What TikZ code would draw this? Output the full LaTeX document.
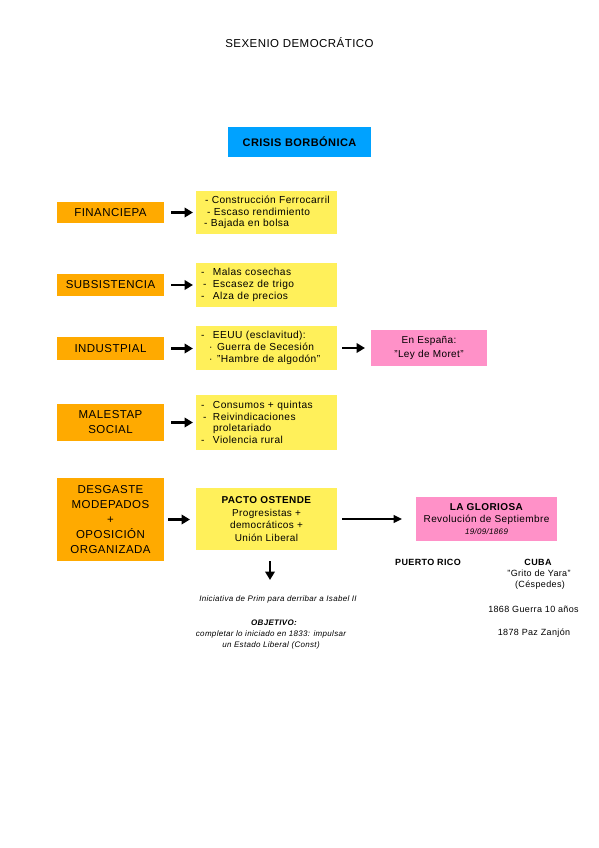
\documentclass[tikz,border=0pt]{standalone}
\usepackage{fontspec}
\setmainfont{Liberation Sans}[LetterSpace=4]
\usetikzlibrary{arrows.meta}
\definecolor{corange}{RGB}{255,170,0}
\definecolor{cyellow}{RGB}{255,240,90}
\definecolor{cpink}{RGB}{255,145,200}
\definecolor{cblue}{RGB}{0,162,255}
\newcommand{\dsh}{\hspace*{4pt}\makebox[12pt][l]{-}}
\newcommand{\dshb}{\hspace*{6pt}\makebox[10pt][l]{-}}
\newcommand{\bul}{\hspace*{12pt}\makebox[8pt][l]{·}}
\begin{document}
\begin{tikzpicture}[x=1pt,y=-1pt,
  box/.style={inner sep=0pt, outer sep=0pt},
  obox/.style={box, fill=corange, minimum width=107pt, align=center, font=\fontsize{11.5}{15}\selectfont},
  ybox/.style={box, fill=cyellow, minimum width=141pt, text width=139pt, align=left, font=\fontsize{10.2}{11.7}\selectfont},
  pbox/.style={box, fill=cpink, align=center},
  arr/.style={line width=2.3pt, -{Triangle[length=8.5pt,width=9.5pt]}},
  thinarr/.style={line width=1.5pt, -{Triangle[length=8.5pt,width=8pt]}},
  note/.style={font=\itshape\fontsize{8}{10.5}\selectfont, align=center},
  side/.style={font=\fontsize{9}{11}\selectfont},
  sideb/.style={font=\bfseries\fontsize{9}{11}\selectfont},
]
\useasboundingbox (0,0) rectangle (599,848);

\node[font=\fontsize{11.5}{13}\selectfont] (title) at (299.5,43) {SEXENIO DEMOCRÁTICO};
\node[box, fill=cblue, minimum width=143pt, minimum height=30pt, font=\bfseries\fontsize{11}{13}\selectfont] (crisis) at (299.5,142) {CRISIS BORBÓNICA};

% orange boxes
\node[obox, minimum height=21pt] (fin) at (110.5,212.5) {FINANCIEPA};
\node[obox, minimum height=22pt] (sub) at (110.5,285) {SUBSISTENCIA};
\node[obox, minimum height=23pt] (ind) at (110.5,348.5) {INDUSTPIAL};
\node[obox, minimum height=37pt] (mal) at (110.5,422.5) {MALESTAP\\SOCIAL};
\node[obox, minimum height=83pt] (des) at (110.5,519.5) {DESGASTE\\MODEPADOS\\+\\OPOSICIÓN\\ORGANIZADA};

% yellow boxes
\node[ybox, minimum height=43pt] (y1) at (266.5,212.5) {\hspace*{8pt}- Construcción Ferrocarril\\\hspace*{10pt}- Escaso rendimiento\\\hspace*{7pt}- Bajada en bolsa};
\node[ybox, minimum height=44pt] (y2) at (266.5,285) {\dsh Malas cosechas\\\dshb Escasez de trigo\\\dsh Alza de precios};
\node[ybox, minimum height=44pt] (y3) at (266.5,348) {\dsh EEUU (esclavitud):\\\bul Guerra de Secesión\\\bul "Hambre de algodón"};
\node[ybox, minimum height=55pt] (y4) at (266.5,422.5) {\dsh Consumos + quintas\\\dshb Reivindicaciones\\\hspace*{16pt}proletariado\\\dsh Violencia rural};
\node[box, fill=cyellow, minimum width=141pt, minimum height=62pt, align=center, font=\fontsize{10}{12.5}\selectfont] (y5) at (266.5,519) {\textbf{PACTO OSTENDE}\\Progresistas +\\democráticos +\\Unión Liberal};

% pink boxes
\node[pbox, minimum width=116pt, minimum height=36pt, font=\fontsize{10}{14.5}\selectfont] (p1) at (429,348) {En España:\\"Ley de Moret"};
\node[pbox, minimum width=141pt, minimum height=44pt, font=\fontsize{10}{12}\selectfont] (p2) at (486.5,519) {\textbf{LA GLORIOSA}\\Revolución de Septiembre\\{\itshape\fontsize{8}{12}\selectfont 19/09/1869}};

% arrows
\draw[arr, shorten <=7pt, shorten >=3pt] (fin.east) -- (y1.west |- fin.east);
\draw[arr, shorten <=7pt, shorten >=3pt] (sub.east) -- (y2.west |- sub.east);
\draw[arr, shorten <=7pt, shorten >=3pt] (ind.east) -- (y3.west |- ind.east);
\draw[arr, shorten <=7pt, shorten >=3pt] (mal.east) -- (y4.west |- mal.east);
\draw[arr, shorten <=4pt, shorten >=6pt] (des.east) -- (y5.west |- des.east);
\draw[arr, shorten <=5pt, shorten >=6pt] (y3.east) -- (p1.west |- y3.east);
\draw[thinarr, shorten <=5pt, shorten >=14pt] (y5.east) -- (p2.west |- y5.east);
\coordinate (dtop) at (270,561);
\coordinate (dbot) at (270,580);
\draw[arr] (dtop) -- (dbot);

% notes
\node[note] (ini) at (278,599) {Iniciativa de Prim para derribar a Isabel II};
\node[note, font=\bfseries\itshape\fontsize{8}{10.5}\selectfont] (obj) at (274,623) {OBJETIVO:};
\node[note] (comp) at (271,640) {completar lo iniciado en 1833: impulsar\\un Estado Liberal (Const)};

% right side
\node[sideb] (pr) at (428,562) {PUERTO RICO};
\node[sideb] (cuba) at (538,562) {CUBA};
\node[side] (yara) at (539,573) {"Grito de Yara"};
\node[side] (ces) at (540,585) {(Céspedes)};
\node[side] (g10) at (533.5,609) {1868 Guerra 10 años};
\node[side] (paz) at (534,633) {1878 Paz Zanjón};
\end{tikzpicture}
\end{document}
